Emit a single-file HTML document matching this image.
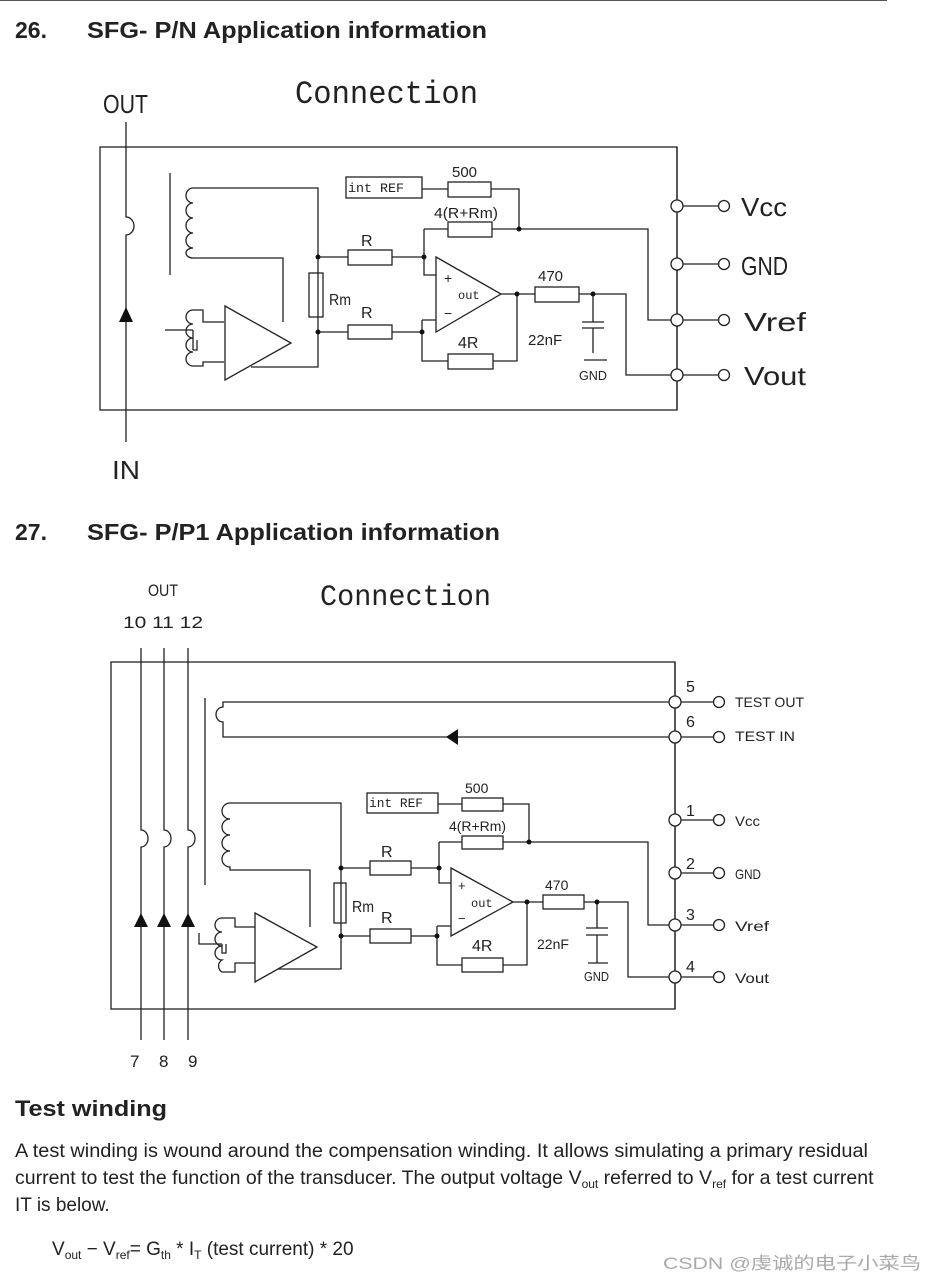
<!DOCTYPE html>
<html><head><meta charset="utf-8"><style>
html,body{margin:0;padding:0;background:#fff;}
svg{display:block;}
.w{fill:none;stroke:#222;stroke-width:1.3;}
.t{font-family:"Liberation Sans",sans-serif;fill:#222;}
.n{font-family:"Liberation Sans",sans-serif;fill:#222;}
.m{font-family:"Liberation Mono",monospace;fill:#222;}
</style></head><body>
<svg width="937" height="1281" viewBox="0 0 937 1281" xmlns="http://www.w3.org/2000/svg">
<line x1="0" y1="0.5" x2="887" y2="0.5" stroke="#555" stroke-width="1"/>
<text x="15" y="38" class="t" font-size="23" font-weight="bold">26.</text>
<text x="87" y="38" class="t" font-size="23" font-weight="bold" textLength="400" lengthAdjust="spacingAndGlyphs">SFG- P/N Application information</text>

<!-- Diagram 1 -->
<text x="103" y="113" class="n" font-size="26" textLength="45" lengthAdjust="spacingAndGlyphs">OUT</text>
<text x="295" y="103" class="m" font-size="32" textLength="183" lengthAdjust="spacingAndGlyphs">Connection</text>
<text x="112" y="479" class="n" font-size="26" textLength="28" lengthAdjust="spacingAndGlyphs">IN</text>
<g class="w">
<rect x="100" y="147" width="577" height="263"/>
<path d="M126 122 V217 A8 9 0 0 1 126 235 V442"/>
<line x1="170" y1="173" x2="170" y2="275"/>
<path d="M193 188 A7 7.5 0 0 0 193 203 A7 7.5 0 0 0 193 218 A7 7.5 0 0 0 193 233 A7 7.5 0 0 0 193 248 A7 5 0 0 0 193 258 H283 V322"/>
<path d="M193 188 H318 V367 H251"/>
<path d="M225 306 L291 343 L225 380 Z"/>
<path d="M224 322 H203 V310 H193 A7 7 0 0 0 193 324 A7 7 0 0 0 193 338 A7 7 0 0 0 193 352 A7 7 0 0 0 193 366 H203 V362 H224"/>
<path d="M165 330 H193 M193 330 V350 M193 350 H197 V340"/>
<rect x="309" y="273" width="14" height="44"/>
<path d="M318 257 H348 M392 257 H424 M318 332 H348 M392 332 H422"/>
<rect x="348" y="250" width="44" height="15"/>
<rect x="348" y="325" width="44" height="14"/>
<path d="M436 257 L501 294 L436 332 Z"/>
<path d="M424 229 V275 H436 M424 229 H448 M492 229 H648 V320 H677"/>
<rect x="448" y="222" width="44" height="15"/>
<path d="M422 320 H436 M422 320 V361 H448 M493 361 H517 V294 M501 294 H535"/>
<rect x="448" y="354" width="45" height="15"/>
<rect x="535" y="287" width="44" height="15"/>
<path d="M579 294 H626 V375 H677"/>
<path d="M593 294 V322 M582 322 H604 M582 328 H604 M593 328 V353 M584 360 H607"/>
<rect x="346" y="177" width="76" height="21"/>
<path d="M422 189 H448 M491 189 H519 V229"/>
<rect x="448" y="182" width="43" height="15"/>
<g fill="#fff">
<circle cx="677" cy="206" r="6"/><circle cx="677" cy="264" r="6"/><circle cx="677" cy="320" r="6"/><circle cx="677" cy="375" r="6"/>
<circle cx="724" cy="206" r="5.5"/><circle cx="724" cy="264" r="5.5"/><circle cx="724" cy="320" r="5.5"/><circle cx="724" cy="375" r="5.5"/>
</g>
<path d="M683 206 H718 M683 264 H718 M683 320 H718 M683 375 H718 M677 147 V200 M677 212 V258 M677 270 V314 M677 326 V369 M677 381 V410"/>
</g>
<g fill="#111">
<path d="M119 322 L126 307 L133 322 Z"/>
<circle cx="318" cy="257" r="2.5"/><circle cx="318" cy="332" r="2.5"/><circle cx="424" cy="257" r="2.5"/><circle cx="422" cy="332" r="2.5"/>
<circle cx="519" cy="229" r="2.5"/><circle cx="517" cy="294" r="2.5"/><circle cx="593" cy="294" r="2.5"/>
</g>
<text x="348" y="192" class="m" font-size="13" textLength="56" lengthAdjust="spacingAndGlyphs">int REF</text>
<text x="452" y="177" class="n" font-size="15">500</text>
<text x="434" y="218" class="n" font-size="15" textLength="64" lengthAdjust="spacingAndGlyphs">4(R+Rm)</text>
<text x="361" y="246" class="n" font-size="16">R</text>
<text x="361" y="318" class="n" font-size="16">R</text>
<text x="329" y="305" class="n" font-size="16" textLength="22" lengthAdjust="spacingAndGlyphs">Rm</text>
<text x="444" y="283" class="n" font-size="14">+</text>
<text x="444" y="318" class="n" font-size="14">−</text>
<text x="458" y="299" class="m" font-size="12">out</text>
<text x="538" y="281" class="n" font-size="15">470</text>
<text x="458" y="348" class="n" font-size="16">4R</text>
<text x="528" y="345" class="n" font-size="15">22nF</text>
<text x="579" y="380" class="n" font-size="13" textLength="28" lengthAdjust="spacingAndGlyphs">GND</text>
<text x="741" y="216" class="n" font-size="26" textLength="46" lengthAdjust="spacingAndGlyphs">Vcc</text>
<text x="741" y="275" class="n" font-size="26" textLength="47" lengthAdjust="spacingAndGlyphs">GND</text>
<text x="744" y="331" class="n" font-size="26" textLength="62" lengthAdjust="spacingAndGlyphs">Vref</text>
<text x="744" y="385" class="n" font-size="26" textLength="62" lengthAdjust="spacingAndGlyphs">Vout</text>

<text x="15" y="540" class="t" font-size="23" font-weight="bold">27.</text>
<text x="87" y="540" class="t" font-size="23" font-weight="bold" textLength="413" lengthAdjust="spacingAndGlyphs">SFG- P/P1 Application information</text>

<!-- Diagram 2 -->
<text x="148" y="596" class="n" font-size="17" textLength="30" lengthAdjust="spacingAndGlyphs">OUT</text>
<text x="123" y="628" class="n" font-size="17" textLength="80" lengthAdjust="spacingAndGlyphs">10 11 12</text>
<text x="320" y="605" class="m" font-size="30" textLength="171" lengthAdjust="spacingAndGlyphs">Connection</text>
<text x="130" y="1067" class="n" font-size="17">7</text><text x="159" y="1067" class="n" font-size="17">8</text><text x="188" y="1067" class="n" font-size="17">9</text>
<g class="w">
<rect x="111" y="662" width="564" height="347"/>
<path d="M141 648 V830 A7 8.5 0 0 1 141 847 V1040"/>
<path d="M164 648 V830 A7 8.5 0 0 1 164 847 V1040"/>
<path d="M188 648 V830 A7 8.5 0 0 1 188 847 V1040"/>
<line x1="205" y1="698" x2="205" y2="885"/>
<path d="M675 702 H223 V707 A7 7.5 0 0 0 223 722 V737 H675"/>
<path d="M230 803 H341 V969 H278"/>
<path d="M230 803 A8 8 0 0 0 230 819 A8 8 0 0 0 230 835 A8 8 0 0 0 230 851 A8 8 0 0 0 230 867 V870 H310 V927"/>
<path d="M255 913 L317 947 L255 982 Z"/>
<path d="M255 927 H235 V918 H222 A7 7 0 0 0 222 932 A7 7 0 0 0 222 946 A7 7 0 0 0 222 960 A7 7 0 0 0 222 972 H235 V963 H255"/>
<path d="M199 933 V944 H222 M222 944 V953 H226 V944"/>
<rect x="334" y="883" width="12" height="40"/>
<path d="M341 868 H370 M411 868 H439 M341 936 H370 M411 936 H437"/>
<rect x="370" y="861" width="41" height="14"/>
<rect x="370" y="929" width="41" height="14"/>
<path d="M451 868 L513 902 L451 936 Z"/>
<path d="M439 842 V883 H451 M439 842 H462 M503 842 H648 V925 H675"/>
<rect x="462" y="836" width="41" height="13"/>
<path d="M437 926 H451 M437 926 V965 H462 M503 965 H527 V902 M513 902 H543"/>
<rect x="462" y="958" width="41" height="14"/>
<rect x="543" y="895" width="41" height="14"/>
<path d="M584 902 H628 V977 H675"/>
<path d="M597 902 V928 M586 928 H608 M586 935 H608 M597 935 V963 M588 963 H608"/>
<rect x="367" y="793" width="71" height="20"/>
<path d="M438 804 H462 M503 804 H529 V842"/>
<rect x="462" y="798" width="41" height="13"/>
<g fill="#fff">
<circle cx="675" cy="702" r="6"/><circle cx="675" cy="737" r="6"/><circle cx="675" cy="820" r="6"/><circle cx="675" cy="873" r="6"/><circle cx="675" cy="925" r="6"/><circle cx="675" cy="977" r="6"/>
<circle cx="719" cy="702" r="5.5"/><circle cx="719" cy="737" r="5.5"/><circle cx="719" cy="820" r="5.5"/><circle cx="719" cy="873" r="5.5"/><circle cx="719" cy="925" r="5.5"/><circle cx="719" cy="977" r="5.5"/>
</g>
<path d="M681 702 H713 M681 737 H713 M681 820 H713 M681 873 H713 M681 925 H713 M681 977 H713"/>
<path d="M675 662 V696 M675 708 V731 M675 743 V814 M675 826 V867 M675 879 V919 M675 931 V971 M675 983 V1009"/>
</g>
<g fill="#111">
<path d="M134 927 L141 913 L148 927 Z"/><path d="M157 927 L164 913 L171 927 Z"/><path d="M181 927 L188 913 L195 927 Z"/>
<path d="M446 737 L458 729 L458 745 Z"/>
<circle cx="341" cy="868" r="2.5"/><circle cx="341" cy="936" r="2.5"/><circle cx="439" cy="868" r="2.5"/><circle cx="437" cy="936" r="2.5"/>
<circle cx="529" cy="842" r="2.5"/><circle cx="527" cy="902" r="2.5"/><circle cx="597" cy="902" r="2.5"/>
</g>
<text x="369" y="807" class="m" font-size="13" textLength="54" lengthAdjust="spacingAndGlyphs">int REF</text>
<text x="465" y="793" class="n" font-size="14">500</text>
<text x="449" y="831" class="n" font-size="14" textLength="57" lengthAdjust="spacingAndGlyphs">4(R+Rm)</text>
<text x="381" y="857" class="n" font-size="16">R</text>
<text x="381" y="923" class="n" font-size="16">R</text>
<text x="352" y="912" class="n" font-size="16" textLength="22" lengthAdjust="spacingAndGlyphs">Rm</text>
<text x="458" y="890" class="n" font-size="13">+</text>
<text x="458" y="923" class="n" font-size="13">−</text>
<text x="471" y="907" class="m" font-size="12">out</text>
<text x="545" y="890" class="n" font-size="14">470</text>
<text x="472" y="951" class="n" font-size="16">4R</text>
<text x="537" y="949" class="n" font-size="14">22nF</text>
<text x="584" y="981" class="n" font-size="13" textLength="25" lengthAdjust="spacingAndGlyphs">GND</text>
<g class="n" font-size="16">
<text x="686" y="692">5</text><text x="686" y="727">6</text><text x="686" y="816">1</text><text x="686" y="869">2</text><text x="686" y="920">3</text><text x="686" y="972">4</text>
</g>
<g class="n" font-size="14">
<text x="735" y="707" textLength="69" lengthAdjust="spacingAndGlyphs">TEST OUT</text>
<text x="735" y="741" textLength="60" lengthAdjust="spacingAndGlyphs">TEST IN</text>
<text x="735" y="826" textLength="25" lengthAdjust="spacingAndGlyphs">Vcc</text>
<text x="735" y="879" textLength="26" lengthAdjust="spacingAndGlyphs">GND</text>
<text x="735" y="931" textLength="34" lengthAdjust="spacingAndGlyphs">Vref</text>
<text x="735" y="983" textLength="34" lengthAdjust="spacingAndGlyphs">Vout</text>
</g>
</g>

<text x="15" y="1116" class="t" font-size="22" font-weight="bold" textLength="152" lengthAdjust="spacingAndGlyphs">Test winding</text>
<text x="15" y="1157" class="t" font-size="19" textLength="853" lengthAdjust="spacingAndGlyphs">A test winding is wound around the compensation winding. It allows simulating a primary residual</text>
<text x="15" y="1184" class="t" font-size="19.5">current to test the function of the transducer. The output voltage V<tspan font-size="12" dy="4">out</tspan><tspan dy="-4"> referred to V</tspan><tspan font-size="12" dy="4">ref</tspan><tspan dy="-4"> for a test current</tspan></text>
<text x="15" y="1211" class="t" font-size="19">IT is below.</text>
<text x="52" y="1255" class="t" font-size="19">V<tspan font-size="12" dy="4">out</tspan><tspan dy="-4"> − V</tspan><tspan font-size="12" dy="4">ref</tspan><tspan dy="-4">= G</tspan><tspan font-size="12" dy="4">th</tspan><tspan dy="-4"> * I</tspan><tspan font-size="12" dy="4">T</tspan><tspan dy="-4"> (test current) * 20</tspan></text>
<text x="663" y="1269" font-family="'Liberation Sans','Noto Sans CJK SC',sans-serif" font-size="17" fill="#aaa" textLength="258" lengthAdjust="spacingAndGlyphs">CSDN @虔诚的电子小菜鸟</text>
</svg>
</body></html>
